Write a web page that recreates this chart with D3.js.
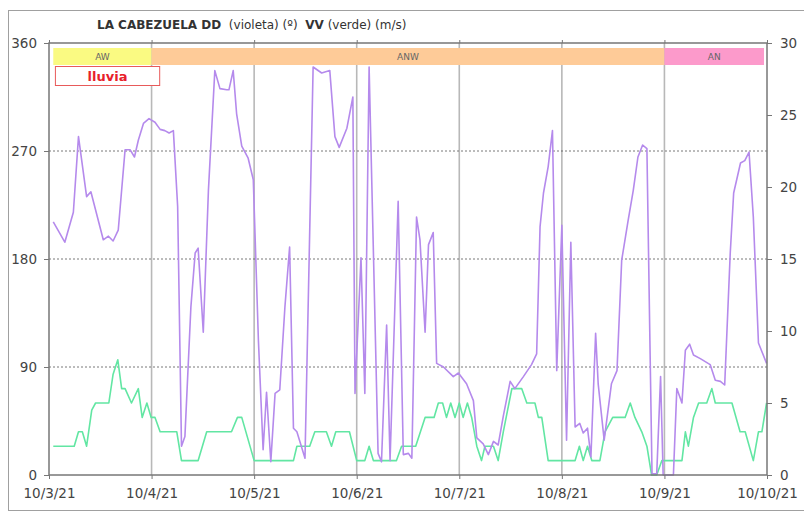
<!DOCTYPE html>
<html>
<head>
<meta charset="utf-8">
<script src="https://cdn.jsdelivr.net/npm/d3@7"></script>
<style>
  body { margin: 0; background: #fff; }
  text { font-family: "DejaVu Sans", Verdana, sans-serif; }
</style>
</head>
<body>
<svg id="chart" width="804" height="513"></svg>
<script>
// hours after 10/3/21 00:00 and direction in degrees (violet)
const ddHours = [1, 3.7, 5.7, 6.9, 8.8, 9.8, 12.7, 13.9, 15, 16.2, 17.8, 19, 20, 20.9, 22.1, 23.4, 24.8, 26, 27.1, 28.1, 29.1, 30.1, 31, 31.8, 33.2, 34.2, 34.9, 36.1, 37.3, 38.8, 40, 41.6, 42.1, 43.1, 43.9, 45.1, 46.6, 47.8, 49, 50.1, 50.9, 51.9, 52.9, 54, 55.2, 56.3, 57.2, 58, 59.9, 61.8, 63.8, 65.7, 66.9, 67.9, 69.7, 71.1, 71.6, 73, 73.9, 74.9, 77, 77.8, 79, 79.8, 81.7, 82.9, 84.1, 84.9, 86, 86.8, 88, 88.8, 89.9, 90.7, 92.3, 94.6, 95.8, 97.7, 99.3, 100.1, 101.6, 102.8, 104, 105.1, 106.3, 107.9, 109, 111, 112.9, 114.1, 114.9, 115.7, 116.8, 117.8, 118.8, 120, 121.1, 122.1, 123.1, 124.2, 125, 126, 126.8, 127.9, 128.5, 129.9, 131.6, 132.9, 134, 135.5, 136.7, 137.8, 138.9, 139.9, 140.6, 141.1, 142.2, 143.1, 143.7, 146.1, 146.9, 148.1, 148.9, 149.9, 150.8, 152.4, 154.7, 155.9, 157.1, 158.1, 159.4, 160.2, 161.8, 162.8, 163.8, 164.8, 166, 167.9];
const ddValues = [211, 194, 219, 282, 232, 236, 196, 199, 195, 204, 271, 271, 265, 279, 293, 297, 294, 288, 287, 285, 287, 224, 24, 32, 140, 185, 189, 119, 237, 337, 322, 321, 321, 337, 301, 274, 264, 246, 112, 21, 69, 11, 68, 71, 140, 190, 39, 36, 14, 340, 335, 337, 282, 273, 289, 315, 68, 181, 68, 340, 18, 11, 125, 12, 228, 17, 18, 14, 215, 196, 119, 192, 202, 93, 90, 82, 85, 76, 62, 31, 26, 17, 28, 25, 49, 78, 72, 82, 92, 101, 207, 235, 257, 287, 87, 208, 29, 194, 40, 43, 35, 39, 15, 118, 76, 29, 76, 87, 179, 212, 237, 265, 275, 272, 112, 1, 1, 82, 0, 0, 72, 60, 104, 109, 100, 97, 92, 79, 78, 75, 185, 235, 260, 262, 269, 215, 110, 93];

// hours after 10/3/21 00:00 and speed in m/s (green)
const vvHours = [1, 5.9, 6.9, 7.8, 8.8, 10, 10.9, 14, 15, 16.1, 17, 17.8, 19.3, 20.9, 21.8, 22.9, 23.9, 24.8, 26, 29.9, 31, 34.9, 36.9, 42.7, 44.1, 45.1, 48, 57.2, 58, 61, 62.2, 64.9, 66.1, 67.1, 70.3, 72, 73.9, 74.9, 75.9, 81.3, 82.5, 85.8, 88, 90.1, 91.1, 92.1, 93, 94, 95, 96, 96.9, 97.9, 98.9, 100.1, 101.2, 102, 104, 105.1, 106.3, 108.3, 110.6, 111.8, 113.7, 114.5, 115.3, 116.8, 123.1, 124.1, 125, 126, 127, 128.9, 130.1, 131.9, 134.8, 136, 137.1, 138.7, 139.9, 141, 142.2, 143.4, 148.1, 148.9, 149.6, 150.8, 152, 153.9, 155.1, 155.9, 159.8, 161.7, 162.9, 164.8, 166, 166.8, 167.9];
const vvValues = [2, 2, 3, 3, 2, 4.5, 5, 5, 7, 8, 6, 6, 5, 6, 4, 5, 4, 4, 3, 3, 1, 1, 3, 3, 4, 4, 1, 1, 2, 2, 3, 3, 2, 3, 3, 1, 1, 2, 1, 1, 2, 2, 4, 4, 5, 5, 4, 5, 4, 5, 4, 5, 4, 2, 1, 2, 2, 1, 3, 6, 6, 5, 5, 4, 4, 1, 1, 2, 1, 2, 1, 1, 3, 4, 4, 5, 4, 3, 2, 0, 0, 1, 1, 3, 2, 4, 5, 5, 6, 5, 5, 3, 3, 1, 3, 3, 5];

// wind sector bands along the top
const bandNames = ["AW", "ANW", "AN"];
const bandStart = [1, 24, 144];
const bandEnd = [24, 144, 167.3];
const bandColors = ["#FAFA82", "#FECB98", "#FC9ACB"];

const leftTicks = [0, 90, 180, 270, 360];
const rightTicks = [0, 5, 10, 15, 20, 25, 30];

const start = new Date(2021, 9, 3);
const end = new Date(2021, 9, 10);
const toDate = h => new Date(start.getTime() + h * 3600e3);

let svg = d3.select("#chart");
let margin = {top: 43, left: 49, right: 37, bottom: 38};
let W = 804, H = 513;

// outer frame
svg.append("rect")
    .attr("x", 8.5).attr("y", 10.5)
    .attr("width", 800).attr("height", 500)
    .attr("fill", "none").attr("stroke", "#a0a0a0");

let x = d3.scaleTime().domain([start, end]).range([margin.left, W - margin.right]);
let yL = d3.scaleLinear().domain([0, 360]).range([H - margin.bottom, margin.top]);
let yR = d3.scaleLinear().domain([0, 30]).range([H - margin.bottom, margin.top]);

let x0 = margin.left, x1 = W - margin.right, y0 = H - margin.bottom, y1 = margin.top;

// vertical day grid
let days = d3.timeDay.range(start, end).slice(1);
svg.append("g").selectAll("line").data(days).enter().append("line")
    .attr("x1", d => x(d)).attr("x2", d => x(d))
    .attr("y1", y1).attr("y2", y0)
    .attr("stroke", "#b8b8b8").attr("stroke-width", 1.6);

// horizontal dotted grid
svg.append("g").selectAll("line").data([90, 180, 270]).enter().append("line")
    .attr("x1", x0).attr("x2", x1)
    .attr("y1", d => yL(d)).attr("y2", d => yL(d))
    .attr("stroke", "#555").attr("stroke-width", 0.8)
    .attr("stroke-dasharray", "2,2");

// top sector bands
let bands = svg.append("g");
bandNames.forEach((name, i) => {
    let bx0 = x(toDate(bandStart[i])), bx1 = x(toDate(bandEnd[i]));
    bands.append("rect")
        .attr("x", bx0).attr("y", 48)
        .attr("width", bx1 - bx0).attr("height", 17)
        .attr("fill", bandColors[i]);
    bands.append("text")
        .attr("x", (bx0 + bx1) / 2).attr("y", 60)
        .attr("text-anchor", "middle")
        .attr("font-size", 9).attr("fill", "#666")
        .text(name);
});

// rain box
let rx0 = x(toDate(1.5)), rx1 = x(toDate(25.9));
svg.append("rect")
    .attr("x", rx0).attr("y", 66.5)
    .attr("width", rx1 - rx0).attr("height", 19)
    .attr("fill", "#fff").attr("stroke", "#e85a5a").attr("stroke-width", 1);
svg.append("text")
    .attr("x", (rx0 + rx1) / 2).attr("y", 81)
    .attr("text-anchor", "middle")
    .attr("font-size", 13).attr("font-weight", "bold").attr("fill", "#e8202a")
    .text("lluvia");

// lines
let ddLine = d3.line()
    .x((d, i) => x(toDate(ddHours[i])))
    .y(d => yL(d));
let vvLine = d3.line()
    .x((d, i) => x(toDate(vvHours[i])))
    .y(d => yR(d));

svg.append("path")
    .datum(vvValues)
    .attr("fill", "none")
    .attr("stroke", "#62e6a3")
    .attr("stroke-width", 1.6)
    .attr("stroke-linejoin", "round")
    .attr("d", vvLine);

svg.append("path")
    .datum(ddValues)
    .attr("fill", "none")
    .attr("stroke", "#b58aec")
    .attr("stroke-width", 1.6)
    .attr("stroke-linejoin", "round")
    .attr("d", ddLine);

// plot frame
svg.append("rect")
    .attr("x", x0).attr("y", y1)
    .attr("width", x1 - x0).attr("height", y0 - y1)
    .attr("fill", "none").attr("stroke", "#777").attr("stroke-width", 1.5);

// axes
let axL = svg.append("g")
    .attr("transform", "translate(" + x0 + ",0)")
    .call(d3.axisLeft(yL).tickValues(leftTicks).tickSize(5).tickPadding(7));
let axR = svg.append("g")
    .attr("transform", "translate(" + x1 + ",0)")
    .call(d3.axisRight(yR).tickValues(rightTicks).tickSize(5).tickPadding(8));
let axB = svg.append("g")
    .attr("transform", "translate(0," + y0 + ")")
    .call(d3.axisBottom(x).ticks(d3.timeDay.every(1)).tickFormat(d3.timeFormat("%-m/%-d/%y")).tickSize(4).tickPadding(9));
let axT = svg.append("g")
    .attr("transform", "translate(0," + y1 + ")")
    .call(d3.axisTop(x).ticks(d3.timeDay.every(1)).tickFormat("").tickSize(3));

[axL, axR, axB, axT].forEach(a => {
    a.select(".domain").remove();
    a.selectAll(".tick line").attr("stroke", "#777");
    a.selectAll("text")
        .attr("font-family", "DejaVu Sans, Verdana, sans-serif")
        .attr("font-size", 13.5).attr("fill", "#444");
});

// title
let title = svg.append("text")
    .attr("x", 97).attr("y", 29)
    .attr("font-size", 12).attr("fill", "#333")
    .attr("xml:space", "preserve");
title.append("tspan").attr("font-weight", "bold").text("LA CABEZUELA DD");
title.append("tspan").text("  (violeta) (º)  ");
title.append("tspan").attr("font-weight", "bold").text("VV");
title.append("tspan").text(" (verde) (m/s)");
</script>
</body>
</html>
